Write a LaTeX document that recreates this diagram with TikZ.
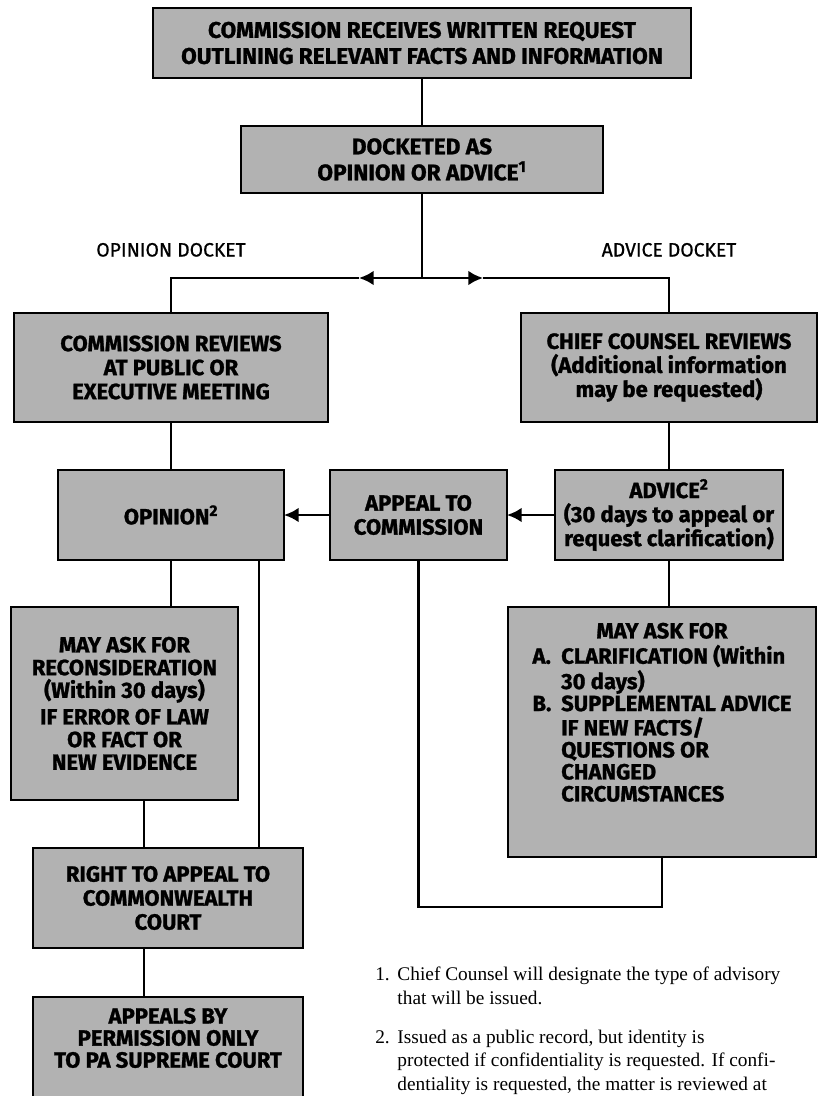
\documentclass[tikz,border=0pt]{standalone}
\usepackage{fontspec}
\setmainfont{Liberation Serif}
\setsansfont{Fira Sans}[BoldFeatures={FakeBold=1.2}]
\newfontfamily\docketfont{Fira Sans}[FakeBold=0.8]
\usepackage{tikz}
\usetikzlibrary{arrows.meta,positioning}

\begin{document}
\begin{tikzpicture}[node distance=36pt and 36pt]
  \tikzstyle{stage}=[rectangle,draw=black,line width=2.2pt,fill=black!30,inner sep=0pt,outer sep=0pt,align=center,font=\sffamily\bfseries\fontsize{16.5}{18}\selectfont]
  \tikzstyle{bigstage}=[stage,font=\sffamily\bfseries\fontsize{17}{19.5}\selectfont]
  \tikzstyle{dlabel}=[inner sep=0pt,font=\docketfont\fontsize{14.5}{16}\selectfont]
  \tikzstyle{conn}=[line width=1.9pt]
  \tikzstyle{note}=[inner sep=0pt,font=\fontsize{14.5}{17.5}\selectfont]

  \useasboundingbox (-316.5pt,32.25pt) rectangle (297pt,-789.75pt);

  \node[bigstage,minimum width=403.5pt,minimum height=52.5pt] (recv) {COMMISSION RECEIVES WRITTEN REQUEST\\OUTLINING RELEVANT FACTS AND INFORMATION};
  \node[bigstage,below=36pt of recv,minimum width=271.5pt,minimum height=50.25pt] (dock) {DOCKETED AS\\OPINION OR ADVICE\textsuperscript{1}};
  \coordinate[below=63.75pt of dock] (split);
  \coordinate[left=188.25pt of split] (lturn);
  \coordinate[right=185.25pt of split] (rturn);
  \coordinate[left=47.25pt of split] (ltip);
  \coordinate[right=45.75pt of split] (rtip);
  \node[dlabel,above=15.75pt of lturn] (oplab) {OPINION DOCKET};
  \node[dlabel,above=15.75pt of rturn] (adlab) {ADVICE DOCKET};

  \node[stage,below=26.25pt of lturn,minimum width=235.5pt,minimum height=81.75pt] (crev) {COMMISSION REVIEWS\\AT PUBLIC OR\\EXECUTIVE MEETING};
  \node[stage,below=26.25pt of rturn,minimum width=222pt,minimum height=81.75pt] (ccrev) {CHIEF COUNSEL REVIEWS\\(Additional information\\may be requested)};
  \node[stage,below=of crev,minimum width=169.5pt,minimum height=67.5pt] (opin) {OPINION\textsuperscript{2}};
  \node[stage,below=of ccrev,minimum width=171pt,minimum height=67.5pt] (advice) {ADVICE\textsuperscript{2}\\(30 days to appeal or\\request clarification)};
  \node[stage,left=of advice,minimum width=132.75pt,minimum height=67.5pt] (appeal) {APPEAL TO\\COMMISSION};

  \node[stage,below=35.25pt of opin,xshift=-34.875pt,minimum width=170.25pt,minimum height=144.75pt,font=\sffamily\bfseries\fontsize{16.5}{17}\selectfont] (recon) {MAY ASK FOR\\RECONSIDERATION\\(Within 30 days)\\[3pt]IF ERROR OF LAW\\OR FACT OR\\NEW EVIDENCE};
  \node[stage,below=of recon,xshift=32.625pt,minimum width=202.5pt,minimum height=75pt] (rta) {RIGHT TO APPEAL TO\\COMMONWEALTH\\COURT};
  \node[stage,below=36.75pt of rta,minimum width=202.5pt,minimum height=97.5pt,font=\sffamily\bfseries\fontsize{16.5}{16}\selectfont] (perm) {\begin{tabular}{@{}c@{}}APPEALS BY\\PERMISSION ONLY\\TO PA SUPREME COURT\\[31.5pt]\end{tabular}};

  \node[stage,below=35.25pt of advice,xshift=-5.25pt,minimum width=231pt,minimum height=187.5pt,font=\sffamily\bfseries\fontsize{16.5}{16}\selectfont] (supp) {\begin{tabular}{@{}l@{\hspace{0.45em}}l@{}}
    \multicolumn{2}{c}{MAY ASK FOR}\\
    A. & CLARIFICATION (Within\\
       & 30 days)\\
    B. & SUPPLEMENTAL ADVICE\\
       & IF NEW FACTS/\\
       & QUESTIONS OR\\
       & CHANGED\\
       & CIRCUMSTANCES\\[25pt]
  \end{tabular}};
  \coordinate[below=37.5pt of supp] (loop);

  \node[note,anchor=north west] (notes) at (-35.25pt,-691pt) {\begin{tabular}{@{}l@{\hspace{0.4em}}l@{}}
    1. & Chief Counsel will designate the type of advisory\\
       & that will be issued.\\[12pt]
    2. & Issued as a public record, but identity is\\
       & protected if confidentiality is requested. If confi-\\
       & dentiality is requested, the matter is reviewed at
  \end{tabular}};

  % connectors
  \draw[conn] (recv) -- (dock);
  \draw[conn] (dock) -- (split);
  \draw[conn,-{Latex[length=11pt,width=11pt]}] (split) -- (ltip);
  \draw[conn] (ltip) -| (crev);
  \draw[conn,-{Latex[length=11pt,width=11pt]}] (split) -- (rtip);
  \draw[conn] (rtip) -| (ccrev);
  \draw[conn] (crev) -- (opin);
  \draw[conn] (ccrev) -- (advice);
  \draw[conn,-{Latex[length=11pt,width=11pt]}] (advice) -- (appeal);
  \draw[conn,-{Latex[length=11pt,width=11pt]}] (appeal) -- (opin);
  \draw[conn] (opin.south) -- (opin.south |- recon.north);
  \coordinate (vline) at ([xshift=14.625pt]recon.south);
  \draw[conn] (vline) -- (vline |- rta.north);
  \draw[conn] ([xshift=66pt]opin.south) -- ([xshift=66pt]opin.south |- rta.north);
  \draw[conn] (rta.south -| vline) -- (perm.north -| vline);
  \draw[conn] (advice.south) -- (advice.south |- supp.north);
  \draw[conn] (supp.south) -- (loop) -| (appeal.south);
\end{tikzpicture}
\end{document}
